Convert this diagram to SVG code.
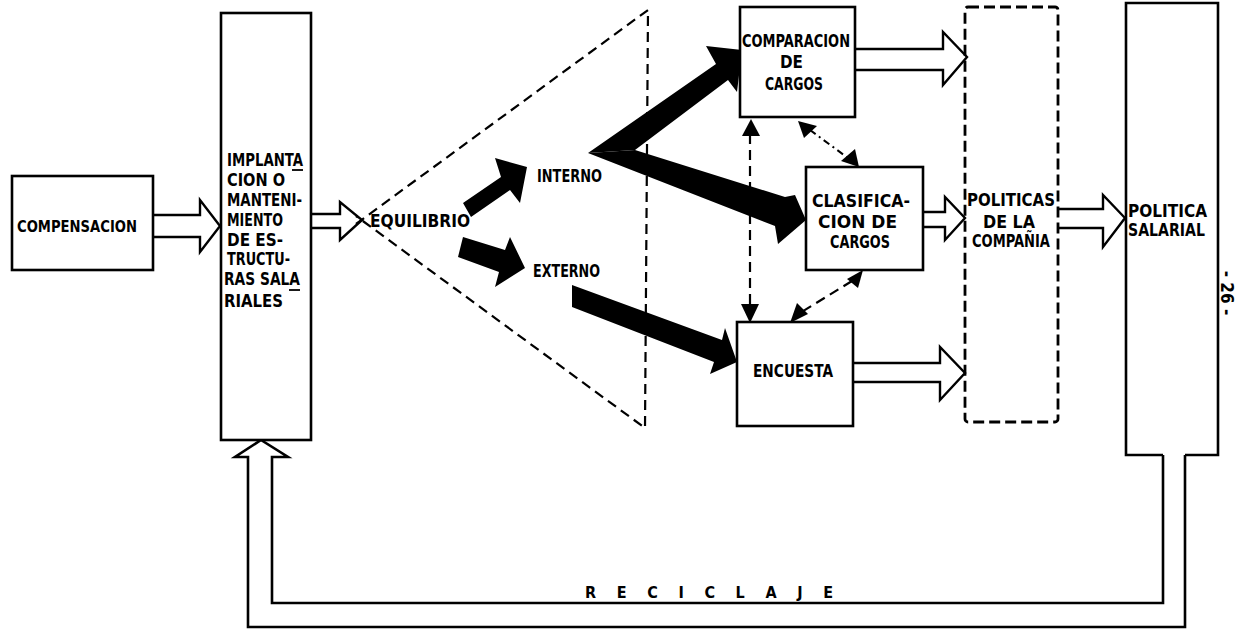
<svg xmlns="http://www.w3.org/2000/svg" width="1237" height="629" viewBox="0 0 1237 629">
<style>
  .box { fill: #fff; stroke: #000; stroke-width: 2.6; }
  .line { fill: none; stroke: #000; stroke-width: 2.6; stroke-linejoin: miter; }
  .hollow { fill: #fff; stroke: #000; stroke-width: 2.4; stroke-linejoin: miter; }
  .solid { fill: #000; stroke: none; }
  .dash { fill: none; stroke: #000; stroke-width: 2.2; stroke-dasharray: 10 6; }
  .dbox { fill: none; stroke: #000; stroke-width: 2.8; stroke-dasharray: 11 5; }
  .dd { fill: none; stroke: #000; stroke-width: 2; stroke-dasharray: 7 4 2 4; }
  .t { font-family: "DejaVu Sans Condensed", "DejaVu Sans", sans-serif; font-weight: bold; font-size: 17px; fill: #000; }
  .sm { font-size: 16px; }
</style>

<g id="connectors">
  <!-- hollow arrows -->
  <path class="hollow" d="M153,215 H200 V200 L220,226 L200,252 V237 H153"/>
  <path class="hollow" d="M311,214 H340 V202 L362,220 L340,240 V228 H311"/>
  <path class="hollow" d="M855,49 H943 V32 L967,57 L943,85 V70 H855"/>
  <path class="hollow" d="M923,212 H945 V197 L965,218 L945,240 V227 H923"/>
  <path class="hollow" d="M853,363 H940 V347 L965,373 L940,400 V382 H853"/>
  <path class="hollow" d="M1058,209 H1103 V195 L1125,218 L1103,247 V228 H1058"/>
  <!-- recycle loop -->
  <path class="line" d="M1163,455 V603 H272 V457 H288 L261,440 L235,457 H248 V627 H1185 V455"/>
  <!-- solid black arrows -->
  <polygon class="solid" points="463,203 501,177 495,158 527,167 520,203 510,190 471,217"/>
  <polygon class="solid" points="463,237 505,250 510,237 525,268 495,287 499,272 458,257"/>
  <polygon class="solid" points="588,153 716,64 706,46 742,50 737,92 728,80 635,150"/>
  <polygon class="solid" points="635,150 785,197 795,195 806,220 778,244 775,226 588,153"/>
  <polygon class="solid" points="572,285 722,340 725,328 737,362 710,374 714,362 572,307"/>
  <!-- dashed triangle -->
  <path class="dash" d="M356,224 L648,10 L645,428 L356,216"/>
  <!-- dashed double arrows -->
  <line class="dash" x1="750" y1="134" x2="750" y2="306" stroke-dasharray="9 6"/>
  <polygon class="solid" points="751,119 760,136 742,136"/>
  <polygon class="solid" points="750,323 741,304 759,304"/>
  <line class="dd" x1="810" y1="130" x2="848" y2="158"/>
  <polygon class="solid" points="798,121 817,126 804,138"/>
  <polygon class="solid" points="859,167 841,161 855,149"/>
  <line class="dash" x1="852" y1="281" x2="800" y2="313" stroke-dasharray="8 6"/>
  <polygon class="solid" points="863,270 858,288 847,279"/>
  <polygon class="solid" points="790,323 797,303 808,314"/>
</g>

<g id="compensacion">
  <rect class="box" x="12" y="176" width="141" height="94"/>
  <text class="t sm" x="17" y="232" textLength="120" lengthAdjust="spacingAndGlyphs">COMPENSACION</text>
</g>

<g id="implantacion">
  <rect class="box" x="221" y="13" width="90" height="427"/>
  <text class="t" x="227" y="166" textLength="76" lengthAdjust="spacingAndGlyphs">IMPLANTA</text>
  <line x1="292" y1="170" x2="303" y2="170" stroke="#000" stroke-width="1.8"/>
  <text class="t" x="227" y="186" textLength="58" lengthAdjust="spacingAndGlyphs">CION O</text>
  <text class="t" x="227" y="206" textLength="75" lengthAdjust="spacingAndGlyphs">MANTENI-</text>
  <text class="t" x="227" y="226" textLength="56" lengthAdjust="spacingAndGlyphs">MIENTO</text>
  <text class="t" x="227" y="246" textLength="56" lengthAdjust="spacingAndGlyphs">DE ES-</text>
  <text class="t" x="227" y="265" textLength="63" lengthAdjust="spacingAndGlyphs">TRUCTU-</text>
  <text class="t" x="224" y="285" textLength="76" lengthAdjust="spacingAndGlyphs">RAS SALA</text>
  <line x1="289" y1="290" x2="300" y2="290" stroke="#000" stroke-width="1.8"/>
  <text class="t" x="224" y="307" textLength="59" lengthAdjust="spacingAndGlyphs">RIALES</text>
</g>

<g id="equilibrio">
  <text class="t" x="370" y="227" textLength="100" lengthAdjust="spacingAndGlyphs">EQUILIBRIO</text>
</g>
<g id="interno">
  <text class="t" x="537" y="182" textLength="65" lengthAdjust="spacingAndGlyphs">INTERNO</text>
</g>
<g id="externo">
  <text class="t" x="533" y="277" textLength="67" lengthAdjust="spacingAndGlyphs">EXTERNO</text>
</g>

<g id="comparacion">
  <rect class="box" x="740" y="7" width="115" height="110"/>
  <text class="t" x="742" y="47" textLength="108" lengthAdjust="spacingAndGlyphs">COMPARACION</text>
  <text class="t" x="780" y="68" textLength="23" lengthAdjust="spacingAndGlyphs">DE</text>
  <text class="t" x="765" y="90" textLength="58" lengthAdjust="spacingAndGlyphs">CARGOS</text>
</g>

<g id="clasificacion">
  <rect class="box" x="806" y="167" width="117" height="103"/>
  <text class="t" x="812" y="207" textLength="98" lengthAdjust="spacingAndGlyphs">CLASIFICA-</text>
  <text class="t" x="818" y="228" textLength="79" lengthAdjust="spacingAndGlyphs">CION DE</text>
  <text class="t" x="830" y="248" textLength="60" lengthAdjust="spacingAndGlyphs">CARGOS</text>
</g>

<g id="encuesta">
  <rect class="box" x="737" y="322" width="116" height="104"/>
  <text class="t" x="753" y="377" textLength="80" lengthAdjust="spacingAndGlyphs">ENCUESTA</text>
</g>

<g id="politicas">
  <rect class="dbox" x="965" y="7" width="93" height="415" rx="3"/>
  <text class="t" x="967" y="206" textLength="88" lengthAdjust="spacingAndGlyphs">POLITICAS</text>
  <text class="t" x="983" y="228" textLength="52" lengthAdjust="spacingAndGlyphs">DE LA</text>
  <text class="t" x="972" y="247" textLength="78" lengthAdjust="spacingAndGlyphs">COMPAÑIA</text>
</g>

<g id="politica-salarial">
  <rect x="1126" y="3" width="92" height="452" fill="#fff"/>
  <path class="line" d="M1163,455 H1126 V3 H1218 V455 H1185"/>
  <text class="t" x="1128" y="217" textLength="79" lengthAdjust="spacingAndGlyphs">POLITICA</text>
  <text class="t" x="1128" y="236" textLength="77" lengthAdjust="spacingAndGlyphs">SALARIAL</text>
</g>

<g id="reciclaje">
  <text class="t sm" x="585" y="598" textLength="248" lengthAdjust="spacing">R E C I C L A J E</text>
</g>

<text class="t" font-size="15" transform="translate(1221,293) rotate(90)" text-anchor="middle">- 26 -</text>
</svg>
